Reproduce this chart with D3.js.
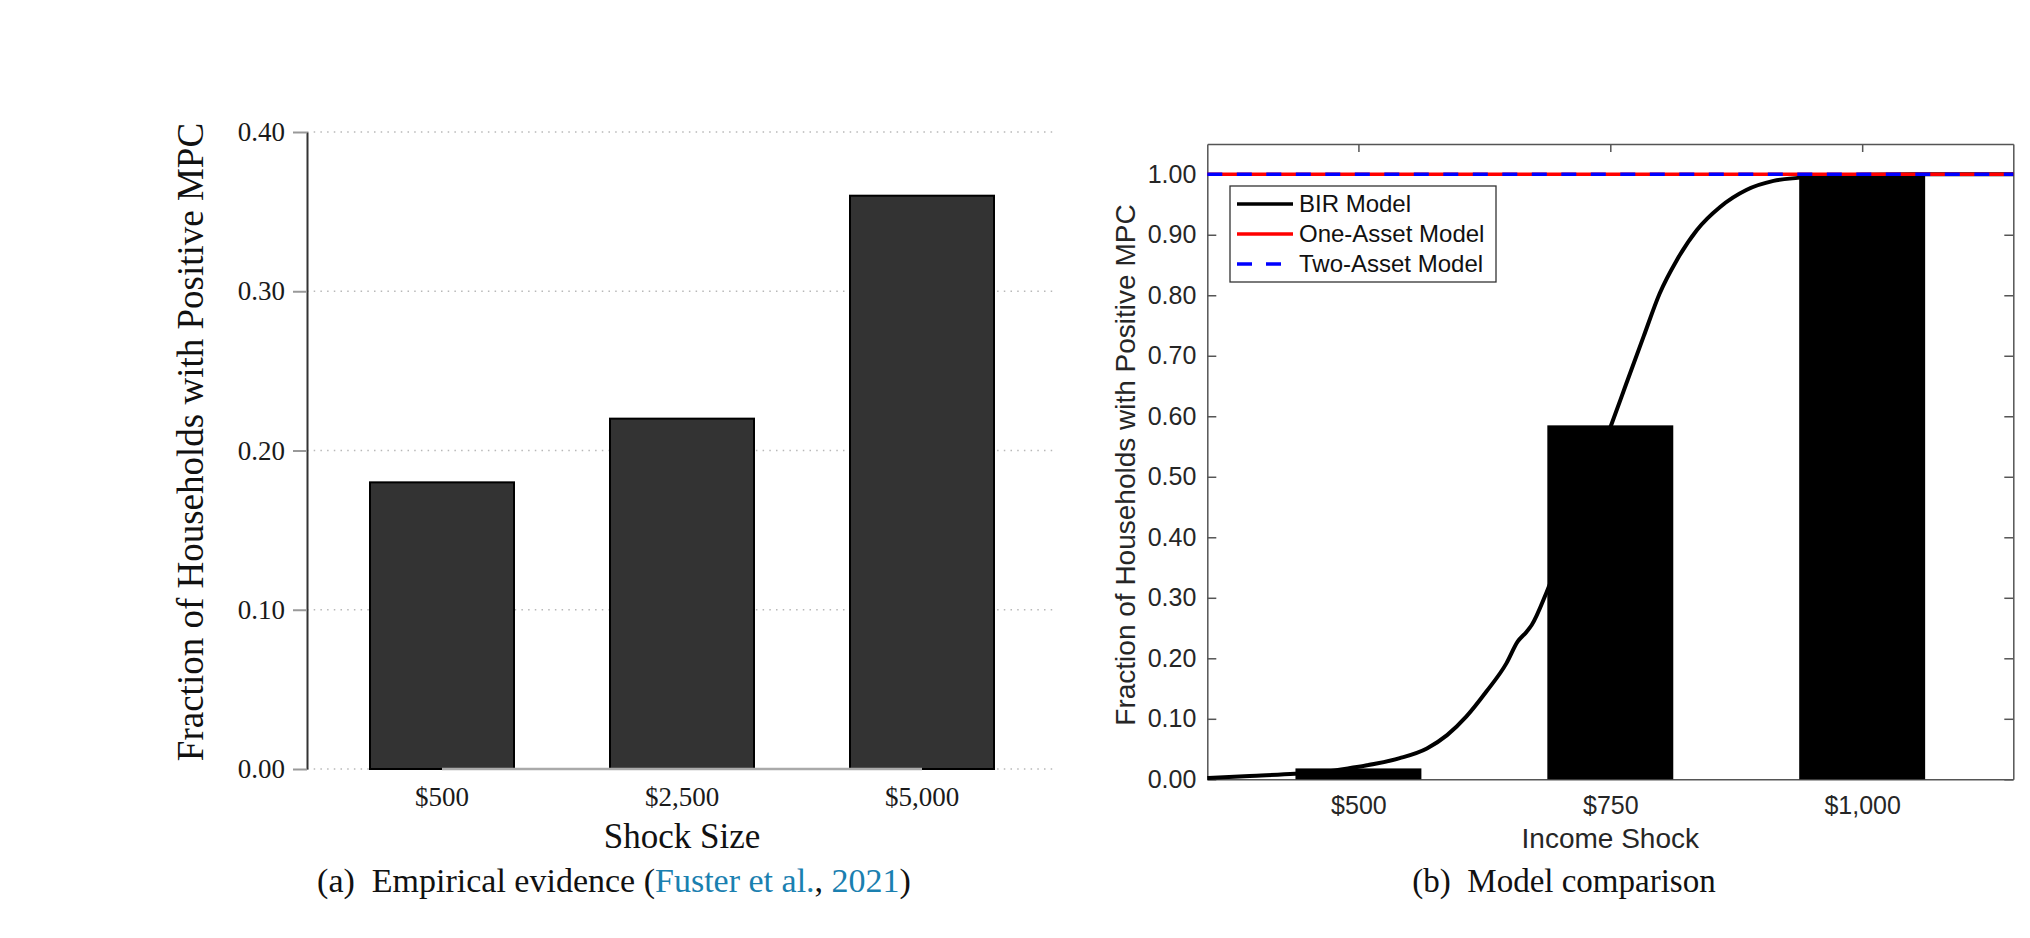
<!DOCTYPE html>
<html>
<head>
<meta charset="utf-8">
<script src="https://d3js.org/d3.v7.min.js"></script>
<title>MPC figure</title>
<style>
  body { margin: 0; background: #fff; }
  svg text { white-space: pre; }
</style>
</head>
<body>
<svg id="fig" width="2030" height="938"></svg>
<script>
// ---- panel (a): empirical evidence ----
const empShocks = ["$500", "$2,500", "$5,000"];
const empShare = [0.18, 0.22, 0.36];
const empTicks = [0, 0.1, 0.2, 0.3, 0.4];

// ---- panel (b): model comparison ----
const modelShocks = [500, 750, 1000];
const modelShockLabels = ["$500", "$750", "$1,000"];
const modelBars = [0.018, 0.585, 1.0];
const modelTicks = [0, 0.1, 0.2, 0.3, 0.4, 0.5, 0.6, 0.7, 0.8, 0.9, 1.0];
const birShock = [350, 392, 437, 470, 492, 518, 541, 568, 588, 607, 627, 647, 658, 667, 672, 687,
                  700, 725, 751, 766, 783, 799, 816, 836, 859, 885, 912, 936, 960, 1000, 1050, 1100, 1150];
const birShare = [0.002, 0.0055, 0.009, 0.013, 0.0187, 0.026, 0.035, 0.051, 0.073, 0.1035, 0.145, 0.192, 0.2275, 0.244, 0.255, 0.31,
                  0.365, 0.475, 0.586, 0.6545, 0.7316, 0.803, 0.858, 0.908, 0.946, 0.974, 0.989, 0.994, 0.997, 0.999, 1.0, 1.0, 1.0];
const flatShock = [350, 1150];
const oneAssetShare = [1, 1];
const twoAssetShare = [1, 1];
const legendNames = ["BIR Model", "One-Asset Model", "Two-Asset Model"];

const svg = d3.select("#fig");
const serif = "'Liberation Serif', 'Times New Roman', serif";
const sans = "'Liberation Sans', Arial, Helvetica, sans-serif";

// =============== panel (a) ===============
const mA = {left: 307, right: 1053, top: 132, bottom: 769};
const xA = d3.scaleBand().domain(empShocks).range([322, 1042]).paddingInner(0.4).paddingOuter(0.2);
const yA = d3.scaleLinear().domain([0, 0.4]).range([mA.bottom, mA.top]);
const gA = svg.append("g");

// dotted grid
gA.selectAll("line.grid")
  .data(empTicks)
  .join("line")
  .attr("class", "grid")
  .attr("x1", mA.left).attr("x2", mA.right)
  .attr("y1", d => yA(d)).attr("y2", d => yA(d))
  .attr("stroke", "#b8b8b8")
  .attr("stroke-width", 1.5)
  .attr("stroke-dasharray", "1.5,5.2");

// bars
gA.selectAll("rect.bar")
  .data(empShare)
  .join("rect")
  .attr("class", "bar")
  .attr("x", (d, i) => xA(empShocks[i]))
  .attr("width", xA.bandwidth())
  .attr("y", d => yA(d))
  .attr("height", d => yA(0) - yA(d))
  .attr("fill", "#333333")
  .attr("stroke", "#000")
  .attr("stroke-width", 2);

// gray baseline between first and last category
gA.append("line")
  .attr("x1", xA(empShocks[0]) + xA.bandwidth() / 2)
  .attr("x2", xA(empShocks[empShocks.length - 1]) + xA.bandwidth() / 2)
  .attr("y1", yA(0)).attr("y2", yA(0))
  .attr("stroke", "#aaaaaa")
  .attr("stroke-width", 2.5);

// y axis
const axA = gA.append("g")
  .attr("transform", "translate(" + mA.left + ",0)")
  .call(d3.axisLeft(yA).tickValues(empTicks).tickFormat(d3.format(".2f"))
        .tickSizeInner(14).tickSizeOuter(0).tickPadding(8));
axA.select(".domain").attr("stroke", "#333").attr("stroke-width", 2);
axA.selectAll(".tick line").attr("stroke", "#999").attr("stroke-width", 2);
axA.selectAll(".tick text").attr("font-family", serif).attr("font-size", 27).attr("fill", "#1a1a1a");

// x labels
const axAx = gA.append("g")
  .attr("transform", "translate(0," + mA.bottom + ")")
  .call(d3.axisBottom(xA).tickSize(0).tickPadding(18));
axAx.select(".domain").remove();
axAx.selectAll(".tick text").attr("font-family", serif).attr("font-size", 27).attr("fill", "#1a1a1a");

gA.append("text")
  .attr("x", 682).attr("y", 848)
  .attr("text-anchor", "middle")
  .attr("font-family", serif).attr("font-size", 35).attr("fill", "#111")
  .text("Shock Size");

gA.append("text")
  .attr("transform", "translate(203,442) rotate(-90)")
  .attr("text-anchor", "middle")
  .attr("font-family", serif).attr("font-size", 37).attr("fill", "#111")
  .text("Fraction of Households with Positive MPC");

const capA = gA.append("text")
  .attr("x", 614).attr("y", 892)
  .attr("text-anchor", "middle")
  .attr("font-family", serif).attr("font-size", 34).attr("fill", "#111");
const citeBlue = "#1a80b0";
[["(a)  Empirical evidence (", "#111"], ["Fuster et al.", citeBlue], [", ", "#111"], ["2021", citeBlue], [")", "#111"]]
  .forEach(p => capA.append("tspan").attr("fill", p[1]).text(p[0]));

// =============== panel (b) ===============
const mB = {left: 1207.3, right: 2013.3, top: 144, bottom: 779.3};
const xB = d3.scaleLinear().domain([350, 1150]).range([mB.left, mB.right]);
const yB = d3.scaleLinear().domain([0, 1.05]).range([mB.bottom, mB.top]);
const barHalf = 62.5;
const gB = svg.append("g");
const axisCol = "#555";
const textCol = "#262626";

// axes (ticks inward)
const axBl = gB.append("g").attr("transform", "translate(" + mB.left + ",0)")
  .call(d3.axisLeft(yB).tickValues(modelTicks).tickFormat(d3.format(".2f"))
        .tickSizeInner(-9).tickSizeOuter(0).tickPadding(11));
const axBr = gB.append("g").attr("transform", "translate(" + mB.right + ",0)")
  .call(d3.axisRight(yB).tickValues(modelTicks).tickFormat("")
        .tickSizeInner(-9).tickSizeOuter(0));
const axBb = gB.append("g").attr("transform", "translate(0," + mB.bottom + ")")
  .call(d3.axisBottom(xB).tickValues(modelShocks).tickFormat((d, i) => modelShockLabels[i])
        .tickSizeInner(-8).tickSizeOuter(0).tickPadding(17));
const axBt = gB.append("g").attr("transform", "translate(0," + mB.top + ")")
  .call(d3.axisTop(xB).tickValues(modelShocks).tickFormat("")
        .tickSizeInner(-8).tickSizeOuter(0));
[axBl, axBr, axBb, axBt].forEach(a => {
  a.select(".domain").attr("stroke", axisCol).attr("stroke-width", 1.5);
  a.selectAll(".tick line").attr("stroke", axisCol).attr("stroke-width", 1.5);
  a.selectAll(".tick text").attr("font-family", sans).attr("font-size", 25).attr("fill", textCol);
});

// bars
gB.selectAll("rect.mbar")
  .data(modelBars)
  .join("rect")
  .attr("class", "mbar")
  .attr("x", (d, i) => xB(modelShocks[i] - barHalf))
  .attr("width", (d, i) => xB(modelShocks[i] + barHalf) - xB(modelShocks[i] - barHalf))
  .attr("y", d => yB(d))
  .attr("height", d => yB(0) - yB(d))
  .attr("fill", "#000");

const lineB = d3.line().x(d => xB(d[0])).y(d => yB(d[1]));

gB.append("path")
  .datum(d3.zip(birShock, birShare))
  .attr("d", lineB.curve(d3.curveMonotoneX))
  .attr("fill", "none").attr("stroke", "#000").attr("stroke-width", 4)
  .attr("stroke-linejoin", "round");

const flatLine = d3.line().x(d => xB(d[0])).y(d => yB(d[1]));
gB.append("path")
  .datum(d3.zip(flatShock, oneAssetShare))
  .attr("d", flatLine)
  .attr("fill", "none").attr("stroke", "#ff0000").attr("stroke-width", 3.5);
gB.append("path")
  .datum(d3.zip(flatShock, twoAssetShare))
  .attr("d", flatLine)
  .attr("fill", "none").attr("stroke", "#0000ff").attr("stroke-width", 3.5)
  .attr("stroke-dasharray", "15,14.5");

// legend
const leg = gB.append("g");
leg.append("rect")
  .attr("x", 1230).attr("y", 186).attr("width", 266).attr("height", 96)
  .attr("fill", "#fff").attr("stroke", "#333").attr("stroke-width", 1.3);
const legStyles = [["#000", null], ["#ff0000", null], ["#0000ff", "15,14"]];
legendNames.forEach((name, i) => {
  const yy = 204 + i * 30;
  leg.append("line")
    .attr("x1", 1237).attr("x2", 1293).attr("y1", yy).attr("y2", yy)
    .attr("stroke", legStyles[i][0]).attr("stroke-width", 3.5)
    .attr("stroke-dasharray", legStyles[i][1]);
  leg.append("text")
    .attr("x", 1299).attr("y", yy).attr("dy", "0.35em")
    .attr("font-family", sans).attr("font-size", 24).attr("fill", "#111")
    .text(name);
});

gB.append("text")
  .attr("x", (mB.left + mB.right) / 2).attr("y", 848)
  .attr("text-anchor", "middle")
  .attr("font-family", sans).attr("font-size", 28).attr("fill", textCol)
  .text("Income Shock");

gB.append("text")
  .attr("transform", "translate(1135,465) rotate(-90)")
  .attr("text-anchor", "middle")
  .attr("font-family", sans).attr("font-size", 28).attr("fill", textCol)
  .text("Fraction of Households with Positive MPC");

gB.append("text")
  .attr("x", 1564).attr("y", 892)
  .attr("text-anchor", "middle")
  .attr("font-family", serif).attr("font-size", 33).attr("fill", "#111")
  .text("(b)  Model comparison");
</script>
</body>
</html>
